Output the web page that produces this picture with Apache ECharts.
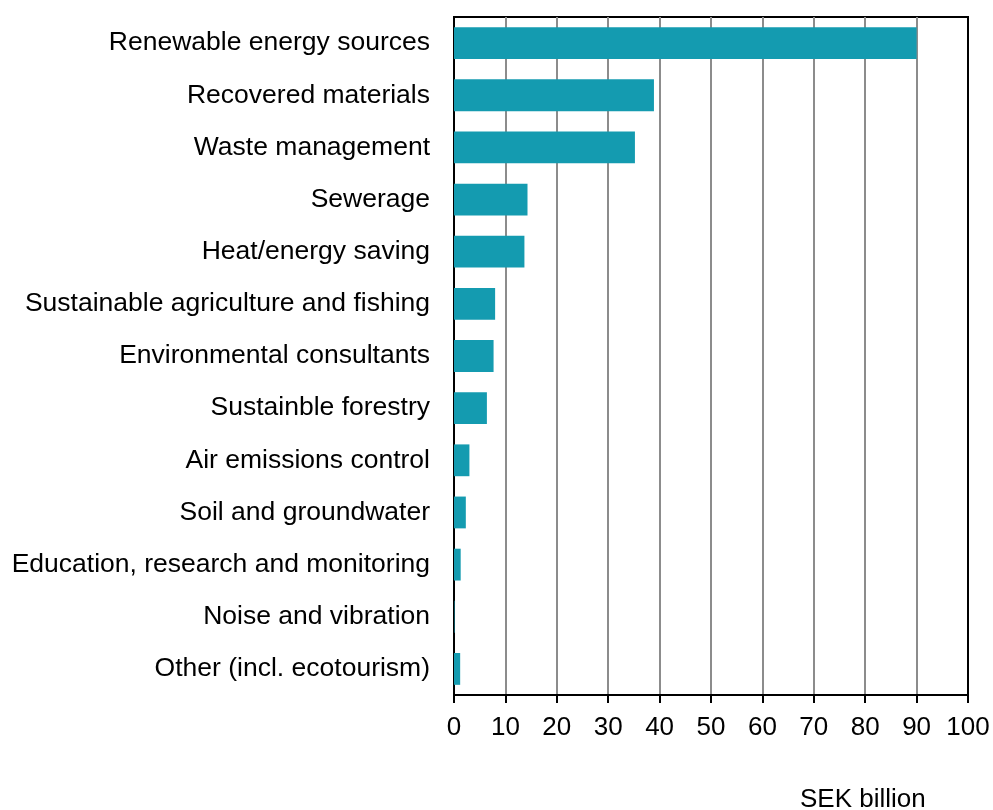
<!DOCTYPE html>
<html>
<head>
<meta charset="utf-8">
<script src="https://cdn.jsdelivr.net/npm/echarts@6/dist/echarts.min.js"></script>
<style>html,body{margin:0;padding:0;background:#fff;}#c{width:993px;height:810px;}</style>
</head>
<body>
<div id="c"></div>
<script>
var categories = [
  "Renewable energy sources",
  "Recovered materials",
  "Waste management",
  "Sewerage",
  "Heat/energy saving",
  "Sustainable agriculture and fishing",
  "Environmental consultants",
  "Sustainble forestry",
  "Air emissions control",
  "Soil and groundwater",
  "Education, research and monitoring",
  "Noise and vibration",
  "Other (incl. ecotourism)"
];
var values = [90.0, 38.9, 35.2, 14.3, 13.7, 8.0, 7.7, 6.4, 3.0, 2.3, 1.3, 0.1, 1.2];
var xTicks = [0, 100, 10];
var unitLabel = "SEK billion";

var FONT = 'Liberation Sans, Arial, sans-serif';
var chart = echarts.init(document.getElementById('c'), null, {renderer: 'canvas'});
chart.setOption({
  animation: false,
  backgroundColor: '#fff',
  textStyle: {fontFamily: FONT},
  grid: {left: 454, right: 25, top: 17, bottom: 115, show: true, borderColor: '#000', borderWidth: 2, backgroundColor: 'transparent'},
  xAxis: {
    type: 'value', min: xTicks[0], max: xTicks[1], interval: xTicks[2],
    axisLine: {show: true, lineStyle: {color: '#000', width: 2}},
    axisTick: {show: true, length: 8, lineStyle: {color: '#000', width: 2}},
    axisLabel: {color: '#000', fontSize: 26, margin: 20, fontFamily: FONT},
    splitLine: {show: true, showMinLine: false, showMaxLine: false, lineStyle: {color: '#8c8c8c', width: 2}}
  },
  yAxis: {
    type: 'category', data: categories, inverse: true,
    axisLine: {show: true, lineStyle: {color: '#000', width: 2}},
    axisTick: {show: false},
    axisLabel: {color: '#000', fontSize: 26.5, margin: 24, padding: [5, 0, 0, 0], fontFamily: FONT}
  },
  series: [{
    type: 'bar', data: values, barCategoryGap: '39%',
    itemStyle: {color: '#149BB0'}, silent: true
  }],
  graphic: [{
    type: 'text', x: 800, y: 800,
    style: {text: unitLabel, fill: '#000', font: '26px Liberation Sans, Arial, sans-serif', textVerticalAlign: 'middle', verticalAlign: 'middle'}
  }]
});
</script>
</body>
</html>
